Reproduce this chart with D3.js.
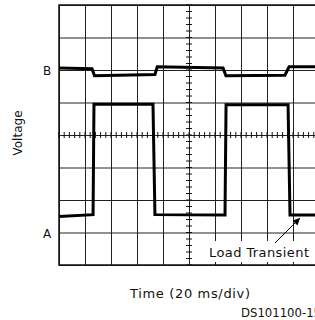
<!DOCTYPE html>
<html>
<head>
<meta charset="utf-8">
<script src="https://cdn.jsdelivr.net/npm/d3@7"></script>
<style>
  body { margin: 0; background: #fff; }
  svg { display: block; }
  text { font-family: "DejaVu Sans", sans-serif; fill: #111; }
</style>
</head>
<body>
<div id="chart"></div>
<script>
// time in ms (20 ms/div, 10 div), voltage in divisions (8 div)
const xTicks = d3.range(0, 201, 20);
const yTicks = d3.range(0, 9, 1);

const traceATime = [0, 26.2, 26.9, 72.3, 73.8, 127.7, 128.5, 176.2, 177.7, 200];
const traceAValue = [1.49, 1.55, 4.95, 4.95, 1.55, 1.54, 4.93, 4.93, 1.54, 1.54];

const traceBTime = [0, 25.4, 27.3, 73.8, 75.6, 126.2, 128.4, 173.8, 177.0, 200];
const traceBValue = [6.06, 6.04, 5.82, 5.86, 6.1, 6.06, 5.82, 5.84, 6.1, 6.1];

const traceLabels = [{ name: 'B', v: 6.0 }, { name: 'A', v: 1.0 }];

const width = 315, height = 320;
const margin = { top: 5, left: 59 };
const plotW = 260, plotH = 260;

const svg = d3.select('#chart').append('svg')
  .attr('width', width)
  .attr('height', height);

const x = d3.scaleLinear().domain([0, 200]).range([margin.left, margin.left + plotW]);
const y = d3.scaleLinear().domain([0, 8]).range([margin.top + plotH, margin.top]);

// grid
svg.append('g')
  .attr('transform', `translate(0,${margin.top + plotH})`)
  .call(d3.axisBottom(x).tickValues(xTicks).tickSize(-plotH).tickFormat(''))
  .call(g => g.select('.domain').remove())
  .selectAll('line').attr('stroke', '#222').attr('stroke-width', 1);

svg.append('g')
  .attr('transform', `translate(${margin.left},0)`)
  .call(d3.axisLeft(y).tickValues(yTicks).tickSize(-plotW).tickFormat(''))
  .call(g => g.select('.domain').remove())
  .selectAll('line').attr('stroke', '#222').attr('stroke-width', 1);

// frame
svg.append('rect')
  .attr('x', margin.left).attr('y', margin.top)
  .attr('width', plotW).attr('height', plotH)
  .attr('fill', 'none').attr('stroke', '#111').attr('stroke-width', 1.5);

// center minor ticks
const cx = x(100), cy = y(4);
svg.append('g').selectAll('line')
  .data(d3.range(0, 201, 4))
  .enter().append('line')
  .attr('x1', d => x(d)).attr('x2', d => x(d))
  .attr('y1', cy - 3).attr('y2', cy + 3)
  .attr('stroke', '#111').attr('stroke-width', 1);

svg.append('g').selectAll('line')
  .data(d3.range(0, 8.01, 0.2))
  .enter().append('line')
  .attr('x1', cx - 3).attr('x2', cx + 3)
  .attr('y1', d => y(d)).attr('y2', d => y(d))
  .attr('stroke', '#111').attr('stroke-width', 1);

// white box behind the annotation
svg.append('rect')
  .attr('x', 206).attr('y', 241)
  .attr('width', 112).attr('height', 21)
  .attr('fill', '#fff');

// traces
const line = d3.line().x(d => x(d[0])).y(d => y(d[1]));

svg.append('path')
  .datum(d3.zip(traceATime, traceAValue))
  .attr('fill', 'none').attr('stroke', '#000')
  .attr('stroke-width', 3).attr('stroke-linejoin', 'miter')
  .attr('d', line);

svg.append('path')
  .datum(d3.zip(traceBTime, traceBValue))
  .attr('fill', 'none').attr('stroke', '#000')
  .attr('stroke-width', 3).attr('stroke-linejoin', 'miter')
  .attr('d', line);

// trace labels
svg.selectAll('.trace-label')
  .data(traceLabels)
  .enter().append('text')
  .attr('class', 'trace-label')
  .attr('x', 47).attr('y', d => y(d.v) + 5)
  .attr('text-anchor', 'middle')
  .attr('font-size', '12px')
  .text(d => d.name);

// axis titles
svg.append('text')
  .attr('transform', `translate(22,${y(4) - 2}) rotate(-90)`)
  .attr('text-anchor', 'middle')
  .attr('font-size', '12px')
  .text('Voltage');

svg.append('text')
  .attr('x', 130).attr('y', 298)
  .attr('font-size', '13px')
  .attr('textLength', 120).attr('lengthAdjust', 'spacing')
  .text('Time (20 ms/div)');

svg.append('text')
  .attr('x', 241).attr('y', 317)
  .attr('font-family', '"Liberation Sans", Arial, sans-serif')
  .attr('font-size', '12.5px')
  .attr('textLength', 80).attr('lengthAdjust', 'spacingAndGlyphs')
  .text('DS101100-15');

// annotation
svg.append('text')
  .attr('x', 209).attr('y', 257)
  .attr('font-size', '13px')
  .attr('textLength', 100).attr('lengthAdjust', 'spacing')
  .text('Load Transient');

svg.append('defs').append('marker')
  .attr('id', 'arrow')
  .attr('viewBox', '0 0 10 10')
  .attr('refX', 10).attr('refY', 5)
  .attr('markerWidth', 9).attr('markerHeight', 7)
  .attr('markerUnits', 'userSpaceOnUse')
  .attr('orient', 'auto')
  .append('path')
  .attr('d', 'M0,0 L10,5 L0,10 z')
  .attr('fill', '#000');

svg.append('line')
  .attr('x1', 275).attr('y1', 243)
  .attr('x2', 300).attr('y2', 218)
  .attr('stroke', '#000').attr('stroke-width', 1)
  .attr('marker-end', 'url(#arrow)');
</script>
</body>
</html>
